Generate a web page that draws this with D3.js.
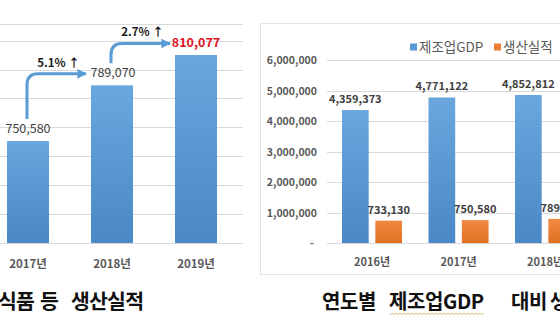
<!DOCTYPE html>
<html>
<head>
<meta charset="utf-8">
<script src="https://cdn.jsdelivr.net/npm/d3@7"></script>
<style>
  html, body { margin: 0; padding: 0; background: #fff; }
  svg { display: block; font-family: "Noto Sans CJK KR", "Noto Sans", sans-serif; }
</style>
</head>
<body>
<svg id="chart" width="560" height="336"></svg>
<script>
// ---- Left panel: 식품 등 생산실적 ----
const prodYears = ["2017년", "2018년", "2019년"];
const prodValues = [750580, 789070, 810077];
const prodTicks = [680000, 700000, 720000, 740000, 760000, 780000, 800000, 820000];

// ---- Right panel: 연도별 제조업GDP 대비 생산실적 ----
const gdpYears = ["2016년", "2017년", "2018년"];
const seriesNames = ["제조업GDP", "생산실적"];
const gdpValues = [4359373, 4771122, 4852812];
const outputValues = [733130, 750580, 789070];
const gdpTicks = [0, 1000000, 2000000, 3000000, 4000000, 5000000, 6000000];

const captionLeft = ["식품", "등", "생산실적"];
const captionRight = ["연도별", "제조업GDP", "대비", "생산실적"];

const svg = d3.select("#chart");
const fmt = d3.format(",");
const grid = "#d9d9d9";

// gradients for the bars
const defs = svg.append("defs");
function grad(id, top, bottom) {
  const g = defs.append("linearGradient").attr("id", id)
    .attr("x1", 0).attr("y1", 0).attr("x2", 0).attr("y2", 1);
  g.append("stop").attr("offset", "0%").attr("stop-color", top);
  g.append("stop").attr("offset", "100%").attr("stop-color", bottom);
}
grad("blueGrad", "#6aa7de", "#4a88c6");
grad("orangeGrad", "#f08a42", "#e06f22");
const arrowMarker = defs.append("marker").attr("id", "arrowHead")
  .attr("viewBox", "0 0 10 10").attr("refX", 9).attr("refY", 5)
  .attr("markerWidth", 3.2).attr("markerHeight", 3.6).attr("orient", "auto")
  .attr("markerUnits", "strokeWidth");
arrowMarker.append("path").attr("d", "M0,0 L10,5 L0,10 Z").attr("fill", "#5b9bd5");

// ================= Left panel =================
const L = svg.append("g");
const xL = d3.scaleBand().domain(prodYears).range([-14, 238]).paddingInner(0.5).paddingOuter(0.25);
const yL = d3.scaleLinear().domain([680000, 831500]).range([243, 24]);

// gridlines plus the plot-area top edge
L.selectAll("line.grid").data(prodTicks.concat([yL.domain()[1]])).join("line")
  .attr("x1", 0).attr("x2", 243)
  .attr("y1", d => Math.round(yL(d)) + 0.5).attr("y2", d => Math.round(yL(d)) + 0.5)
  .attr("stroke", grid).attr("stroke-width", 1);

L.selectAll("rect.bar").data(prodValues).join("rect")
  .attr("x", (d, i) => xL(prodYears[i]))
  .attr("width", xL.bandwidth())
  .attr("y", d => yL(d))
  .attr("height", d => yL(680000) - yL(d))
  .attr("fill", "url(#blueGrad)");

// value labels; the latest year is highlighted
const last = prodValues.length - 1;
L.selectAll("text.val").data(prodValues).join("text")
  .attr("x", (d, i) => xL(prodYears[i]) + xL.bandwidth() / 2 + (i === 1 ? 1 : 0))
  .attr("y", d => yL(d) - 8)
  .attr("text-anchor", "middle")
  .attr("font-size", (d, i) => i === last ? 12.5 : 12.5)
  .attr("font-weight", (d, i) => i === last ? 700 : 400)
  .attr("fill", (d, i) => i === last ? "#e0141e" : "#404040")
  .text(d => fmt(d));

// growth arrows between consecutive years
for (let i = 0; i < prodValues.length - 1; i++) {
  const x0 = xL(prodYears[i]) + xL.bandwidth() / 2 - 1;
  const y0 = yL(prodValues[i]) - 22;
  const yh = yL(prodValues[i + 1]) - 11.5;
  const x1 = xL(prodYears[i + 1]) - 5;
  const r = 11;
  L.append("path")
    .attr("d", `M${x0},${y0} L${x0},${yh + r} Q${x0},${yh} ${x0 + r},${yh} L${x1},${yh}`)
    .attr("fill", "none").attr("stroke", "#5b9bd5").attr("stroke-width", 3)
    .attr("marker-end", "url(#arrowHead)");
  const pct = (prodValues[i + 1] - prodValues[i]) / prodValues[i] * 100;
  L.append("text")
    .attr("x", (x0 + x1) / 2 + 2).attr("y", yh - 7)
    .attr("text-anchor", "middle")
    .attr("font-size", 11.5).attr("font-weight", 700).attr("fill", "#1a1a1a")
    .text(pct.toFixed(1) + "% ↑");
}

// category labels
L.selectAll("text.cat").data(prodYears).join("text")
  .attr("x", d => xL(d) + xL.bandwidth() / 2)
  .attr("y", 268)
  .attr("text-anchor", "middle")
  .attr("font-size", 11.5).attr("font-weight", 700).attr("fill", "#595959")
  .text(d => d);

// caption
const capL = svg.append("text").attr("y", 309).attr("font-size", 20.5)
  .attr("letter-spacing", -0.8).attr("font-weight", 700).attr("fill", "#111");
const capLx = [-2, 40, 71];
capL.selectAll("tspan").data(captionLeft).join("tspan")
  .attr("x", (d, i) => capLx[i]).text(d => d);

// ================= Right panel =================
const R = svg.append("g");
// panel frame
R.append("rect").attr("x", 260.5).attr("y", 23.5).attr("width", 320).attr("height", 251)
  .attr("fill", "none").attr("stroke", "#e3e3e3");

const yR = d3.scaleLinear().domain([0, 6000000]).range([243, 60]);
const xR = d3.scaleBand().domain(gdpYears).range([298.75, 618.3]).paddingInner(0.306).paddingOuter(0.5);
const xInner = d3.scaleBand().domain(seriesNames).range([0, xR.bandwidth()]).paddingInner(0.2);

R.selectAll("line.grid").data(gdpTicks).join("line")
  .attr("x1", 327).attr("x2", 560)
  .attr("y1", d => Math.round(yR(d)) + 0.5).attr("y2", d => Math.round(yR(d)) + 0.5)
  .attr("stroke", grid);

R.selectAll("text.tick").data(gdpTicks).join("text")
  .attr("x", d => d === 0 ? 314 : 317)
  .attr("y", d => yR(d) + 4)
  .attr("text-anchor", "end")
  .attr("font-size", 10.5).attr("font-weight", 600).attr("fill", "#595959")
  .text(d => d === 0 ? "-" : fmt(d));

const series = [
  { name: seriesNames[0], values: gdpValues, fill: "url(#blueGrad)" },
  { name: seriesNames[1], values: outputValues, fill: "url(#orangeGrad)" }
];
series.forEach(s => {
  R.selectAll(null).data(s.values).join("rect")
    .attr("x", (d, i) => xR(gdpYears[i]) + xInner(s.name))
    .attr("width", xInner.bandwidth())
    .attr("y", d => yR(d))
    .attr("height", d => yR(0) - yR(d))
    .attr("fill", s.fill);
  R.selectAll(null).data(s.values).join("text")
    .attr("x", (d, i) => xR(gdpYears[i]) + xInner(s.name) + xInner.bandwidth() / 2)
    .attr("y", d => yR(d) - 7)
    .attr("text-anchor", "middle")
    .attr("font-size", 11).attr("font-weight", 600).attr("fill", "#404040")
    .text(d => fmt(d));
});

R.selectAll("text.cat").data(gdpYears).join("text")
  .attr("x", d => xR(d) + xR.bandwidth() / 2)
  .attr("y", 266)
  .attr("text-anchor", "middle")
  .attr("font-size", 11).attr("font-weight", 700).attr("fill", "#595959")
  .text(d => d);

// legend
const legX = [410, 494];
const leg = R.selectAll("g.leg").data(series).join("g")
  .attr("transform", (d, i) => `translate(${legX[i]},47)`);
leg.append("rect").attr("x", 0).attr("y", -3.5).attr("width", 7).attr("height", 7)
  .attr("fill", (d, i) => i === 0 ? "#5b9bd5" : "#ed7d31");
leg.append("text").attr("x", 9).attr("y", 5).attr("font-size", 13.5).attr("fill", "#595959")
  .text(d => d.name);

// caption
const capR = svg.append("text").attr("y", 309).attr("font-size", 20)
  .attr("letter-spacing", -0.4).attr("font-weight", 700).attr("fill", "#111");
const capRx = [322, 389, 511, 550];
capR.selectAll("tspan").data(captionRight).join("tspan")
  .attr("x", (d, i) => capRx[i]).text(d => d);

// proofing squiggle under the second caption word
const sq = [];
for (let x = 390; x <= 485; x += 2) sq.push([x, 313 + ((x / 2) % 2 === 0 ? 0 : 1.5)]);
svg.append("path").attr("d", d3.line()(sq)).attr("fill", "none")
  .attr("stroke", "#c9a85a").attr("stroke-width", 0.9).attr("opacity", 0.8);
</script>
</body>
</html>
